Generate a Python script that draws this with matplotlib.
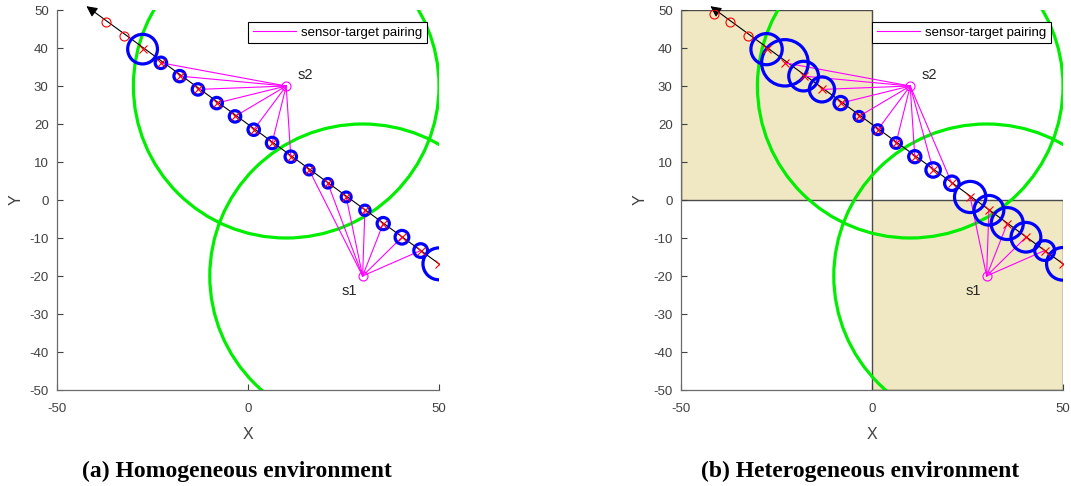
import matplotlib
matplotlib.use("Agg")
import matplotlib.pyplot as plt
from matplotlib.patches import Circle, Rectangle

# ---------------- data ----------------
target_x = [50.0, 45.2, 40.3, 35.4, 30.6, 25.7, 20.9, 16.0, 11.2, 6.3, 1.5,
            -3.4, -8.2, -13.1, -17.9, -22.8, -27.6, -32.5, -37.3]
target_y = [-16.8, -13.3, -9.8, -6.2, -2.7, 0.8, 4.4, 7.9, 11.4, 15.0, 18.5,
            22.0, 25.5, 29.1, 32.6, 36.1, 39.7, 43.2, 46.8]
n_tracked = 17  # targets 0..16 are tracked (red x + blue circle)

radii_homo = [4.2, 1.8, 1.8, 1.6, 1.35, 1.3, 1.25, 1.3, 1.5, 1.5, 1.5,
              1.5, 1.5, 1.5, 1.5, 1.5, 3.9]
radii_hetero = [4.3, 2.6, 3.9, 4.2, 3.9, 4.1, 1.9, 1.9, 1.6, 1.4, 1.3,
                1.3, 1.75, 3.3, 3.9, 6.1, 4.1]

extra_hetero_x = [-41.3]
extra_hetero_y = [49.0]

sensor_names = ["s1", "s2"]
sensor_x = [30, 10]
sensor_y = [-20, 30]
sensing_radius = 40

pair_homo = {"s1": [1, 2, 3, 4, 5, 6, 7],
             "s2": [8, 9, 10, 11, 12, 13, 14, 15]}
pair_hetero = {"s1": [1, 2, 3, 4, 5],
               "s2": [6, 7, 8, 9, 10, 11, 12, 13, 14, 15]}

arrow_start = (50.0, -16.8)
arrow_end = (-42.3, 51.0)

region_rects = [(-50, 0, 50, 50), (0, -50, 50, 50)]  # x, y, w, h

captions = ["(a) Homogeneous environment", "(b) Heterogeneous environment"]
xticks = [-50, 0, 50]
yticks = list(range(-50, 51, 10))

# ---------------- style ----------------
plt.rcParams['font.family'] = ['Liberation Sans', 'DejaVu Sans']
plt.rcParams['axes.unicode_minus'] = False
AX_COL = '#404040'
W, H = 1071, 486
fig = plt.figure(figsize=(W / 100, H / 100), dpi=100)

ax_pos = [(57, 10, 439, 390), (681, 10, 1063, 390)]


def make_ax(px):
    l, t, r, b = px
    return fig.add_axes([l / W, 1 - b / H, (r - l) / W, (b - t) / H])


def draw_panel(ax, radii, pairs, hetero):
    ax.set_xlim(-50, 50)
    ax.set_ylim(-50, 50)
    if hetero:
        for (x, y, w, h) in region_rects:
            ax.add_patch(Rectangle((x, y), w, h, facecolor='#F0E7C3',
                                   edgecolor='#4a4a4a', lw=1.0, zorder=1))
    # sensing ranges
    for sx, sy in zip(sensor_x, sensor_y):
        ax.add_patch(Circle((sx, sy), sensing_radius, fill=False,
                            edgecolor='#00EE00', lw=2.3, zorder=2))
    # trajectory arrow
    ax.annotate('', xy=arrow_end, xytext=arrow_start,
                arrowprops=dict(arrowstyle='-|>', color='black', lw=0.8,
                                mutation_scale=16, shrinkA=0, shrinkB=0),
                annotation_clip=False, zorder=3)
    # pairing lines
    first = True
    for name, sx, sy in zip(sensor_names, sensor_x, sensor_y):
        for k in pairs[name]:
            ax.plot([sx, target_x[k]], [sy, target_y[k]], color='#FF00FF',
                    lw=0.8, zorder=4,
                    label='sensor-target pairing' if first else None)
            first = False
    # uncertainty circles
    for k in range(n_tracked):
        ax.add_patch(Circle((target_x[k], target_y[k]), radii[k], fill=False,
                            edgecolor='#0000FF', lw=2.3, zorder=5))
    # targets
    ax.plot(target_x[:n_tracked], target_y[:n_tracked], 'x', color='#FF0000',
            ms=5.5, mew=0.8, zorder=6)
    ox = target_x[n_tracked:]
    oy = target_y[n_tracked:]
    if hetero:
        ox = ox + extra_hetero_x
        oy = oy + extra_hetero_y
    ax.plot(ox, oy, 'o', mfc='none', mec='#FF0000', ms=6.5, mew=0.8, zorder=6)
    # sensors
    ax.plot(sensor_x, sensor_y, 'o', mfc='none', mec='#FF00FF', ms=6.5,
            mew=0.8, zorder=7)
    ax.text(sensor_x[1] + 3, sensor_y[1] + 3, sensor_names[1], fontsize=10.5,
            color='#262626', ha='left', va='center', zorder=8)
    ax.text(sensor_x[0] - 5.5, sensor_y[0] - 4, sensor_names[0], fontsize=10.5,
            color='#262626', ha='left', va='center', zorder=8)

    ax.set_xticks(xticks)
    ax.set_yticks(yticks)
    ax.tick_params(direction='in', length=4, width=0.8, colors=AX_COL,
                   labelsize=9.5)
    ax.tick_params(axis='x', pad=9)
    ax.tick_params(axis='y', pad=6)
    for s in ['top', 'right']:
        ax.spines[s].set_visible(False)
    for s in ['left', 'bottom']:
        ax.spines[s].set_color('#6b6b6b')
        ax.spines[s].set_linewidth(0.9)
        ax.spines[s].set_zorder(10)
    ax.set_xlabel('X', fontsize=11.5, color=AX_COL, labelpad=9)
    ax.set_ylabel('Y', fontsize=11.5, color=AX_COL, labelpad=4)
    leg = ax.legend(loc='upper right', bbox_to_anchor=(0.968, 0.969),
                    borderaxespad=0, fancybox=False, framealpha=1,
                    edgecolor='black', fontsize=9.5, handlelength=3.3,
                    handletextpad=0.35, borderpad=0.35)
    leg.get_frame().set_linewidth(0.8)
    leg.set_zorder(20)


ax1 = make_ax(ax_pos[0])
draw_panel(ax1, radii_homo, pair_homo, False)
ax2 = make_ax(ax_pos[1])
draw_panel(ax2, radii_hetero, pair_hetero, True)

fig.text(236.5 / W, 1 - 471 / H, captions[0], ha='center', va='center',
         fontsize=17, fontweight='bold',
         family=['Liberation Serif', 'DejaVu Serif'])
fig.text(860 / W, 1 - 471 / H, captions[1], ha='center', va='center',
         fontsize=17, fontweight='bold',
         family=['Liberation Serif', 'DejaVu Serif'])

fig.savefig('out.png', dpi=100)
